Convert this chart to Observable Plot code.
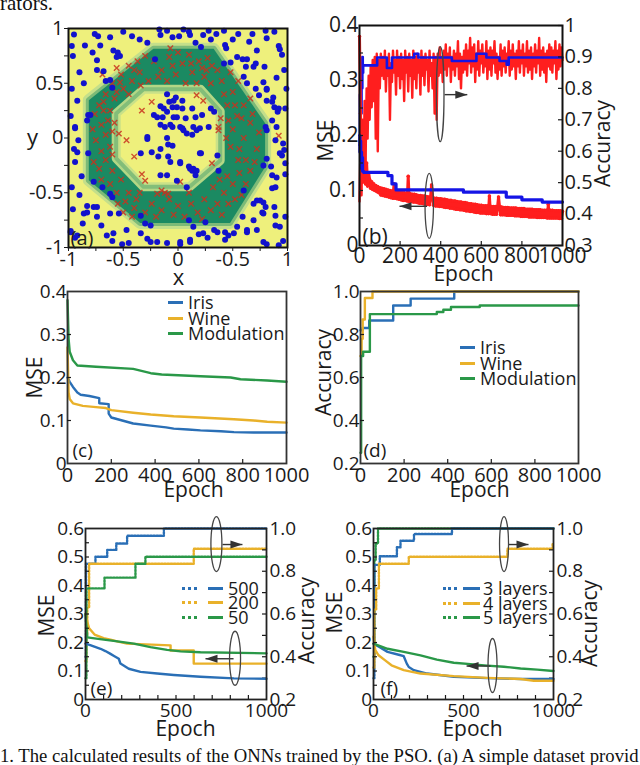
<!DOCTYPE html>
<html><head><meta charset="utf-8">
<script src="https://cdn.jsdelivr.net/npm/d3@7"></script>
<script src="https://cdn.jsdelivr.net/npm/@observablehq/plot@0.6"></script>
<style>
html,body{margin:0;padding:0;background:#fff;}
#root{position:relative;width:640px;height:765px;overflow:hidden;background:#fff;}
.serif{position:absolute;font-family:"Liberation Serif","Times New Roman",serif;color:#111;white-space:nowrap;line-height:1.15;}
</style></head>
<body><div id="root"></div>
<script>
// ================= DATA =================
// ---- (a) decision regions and samples ----
const ringOuter = [[-0.81,0.34],[-0.22,0.81],[0.33,0.81],[0.8,0.13],[0.8,-0.27],[0.48,-0.78],[-0.34,-0.78],[-0.81,-0.39]];
const ringInner = [[-0.31,0.44],[0.21,0.44],[0.39,0.24],[0.39,-0.21],[0.11,-0.45],[-0.31,-0.45],[-0.56,-0.19],[-0.56,0.22]];
const blueDots = [
[-0.95,0.945],[-0.97,0.84],[-0.85,0.845],[-0.96,0.75],[-0.76,0.95],[-0.73,0.93],[-0.71,0.845],[-0.78,0.78],[-0.74,0.71],[-0.59,0.8],[-0.55,0.78],[-0.53,0.75],[-0.56,0.74],[-0.68,0.61],[-0.74,0.62],[-0.66,0.52],[-0.62,0.53],[-0.6,0.46],[-0.42,0.93],[-0.28,0.87],[-0.16,0.94],[-0.17,0.99],[-0.1,0.98],[-0.92,0.34],[-0.8,0.21],[-0.83,0.16],[-0.94,0.1],[-0.21,0.72],
[-0.1,0.4],[-0.08,0.33],[-0.16,0.29],[-0.05,0.28],[-0.22,0.21],[-0.14,0.19],[-0.12,0.1],[-0.05,0.1],
[0.01,0.93],[0.1,0.97],[0.11,0.94],[0.23,0.94],[0.42,0.98],[0.43,0.85],[0.44,0.82],[0.16,0.87],[0.21,0.83],[0.54,0.74],[0.59,0.72],[0.63,0.72],[0.69,0.65],[0.71,0.68],[0.79,0.65],[0.92,0.84],[0.93,0.81],[0.95,0.76],[0.81,0.91],[0.8,0.98],[0.48,0.69],[0.42,0.68],[0.62,0.65],[0.6,0.56],[0.63,0.5],[0.71,0.45],[0.81,0.45],[0.74,0.39],[0.81,0.34],[0.86,0.33],[0.88,0.28],[0.91,0.24],[0.86,0.16],[0.8,0.1],[0.81,0.07],[0.98,0.27],
[-0.02,0.37],[0.04,0.34],[0.13,0.27],[0.04,0.27],[-0.01,0.19],[0.16,0.19],[0.02,0.1],[0.05,0.07],[0.14,0.1],[0.17,0.07],[0.28,0.1],[0.3,0.27],[0.33,0.24],
[-0.95,-0.1],[-0.92,-0.13],[-0.77,-0.4],[-0.69,-0.45],[-0.62,-0.51],[-0.6,-0.54],[-0.77,-0.63],[-0.83,-0.68],[-0.86,-0.69],[-0.74,-0.72],[-0.98,-0.86],[-0.94,-0.91],[-0.65,-0.89],[-0.6,-0.94],[-0.51,-0.97],[-0.54,-0.69],[-0.34,-0.71],[-0.3,-0.78],[-0.25,-0.8],[-0.28,-0.92],[-0.25,-0.95],
[-0.28,-0.01],[-0.16,-0.1],[-0.07,-0.22],[-0.1,0.0],[-0.16,-0.34],
[0.21,-0.14],[0.11,-0.28],[0.14,-0.28],[0.17,-0.3],[0.36,-0.16],[0.37,-0.3],[0.08,-0.45],[0.02,-0.22],[0.6,-0.48],[0.78,-0.25],[0.86,-0.34],[0.86,-0.46],[0.89,-0.02],[0.95,-0.16],[0.97,-0.11],[0.81,-0.19],[0.72,-0.57],[0.78,-0.59],[0.8,-0.63],[0.77,-0.68],[0.89,-0.71],[0.98,-0.72],[0.59,-0.72],[0.43,-0.86],[0.46,-0.89],[0.54,-0.81],[0.63,-0.86],[0.72,-0.84],[0.78,-0.95],[0.89,-0.8],[0.92,-0.98],[0.36,-0.86],[0.19,-0.88],[0.11,-0.95],[0.02,-0.97],[0.27,-0.91],[0.14,-0.81],[0.25,-0.77],[0.1,-0.75],
[-0.04,0.34],[-0.13,0.27],[-0.1,0.24],[-0.01,0.28],[-0.19,0.19],[-0.04,0.19],[0.07,0.18],[0.22,0.21],[-0.16,0.12],[-0.07,0.12],[0.04,0.09],[0.08,0.04],[0.13,0.03],[0.2,0.09],[-0.28,0.01],[-0.09,-0.06],[-0.05,-0.07],[-0.34,-0.14],[-0.24,-0.13],[-0.18,-0.17],[-0.09,-0.17],[0.02,-0.23],[0.1,-0.26],[0.13,-0.3],[-0.1,-0.34],[-0.01,-0.39],[0.2,-0.14],[0.16,-0.34],
[-0.94,0.09],[-0.91,-0.02],[-0.82,-0.14],[-0.94,-0.22],[-0.82,0.21],
[0.9,0.1],[0.96,-0.05],[0.93,-0.14],[0.98,-0.23],[0.98,-0.33],[0.9,-0.36],[0.89,-0.45],[0.85,-0.26],[0.92,0.27],[0.87,0.37],[0.78,0.51],[0.81,0.44],
[-0.98,-0.85],[-0.92,-0.89],[-0.83,-0.62],[-0.74,-0.63],[-0.62,-0.69],[-0.59,-0.87],[-0.47,-0.84],[-0.34,-0.87],[-0.19,-0.95],[-0.1,-0.96],[0.02,-0.95],[0.11,-0.93],[0.23,-0.87],[0.33,-0.84],[0.43,-0.93],[0.51,-0.87],[0.63,-0.84],[0.69,-0.75],[0.78,-0.69],[0.88,-0.63],[0.93,-0.81],[0.81,-0.97],[0.96,-0.94],[0.75,-0.57],[0.69,-0.6],
[-0.9,0.6],[-0.97,0.45],[-0.86,0.5],[-0.98,0.2],[-0.88,-0.35],[-0.97,-0.45],[-0.9,-0.52],[-0.96,-0.65],[-0.87,-0.78],[-0.7,-0.8],[-0.45,-0.96],[-0.05,0.92],[0.3,0.9],[0.55,0.95],[0.65,0.88],[0.72,0.8],[0.35,0.95],[0.97,0.62],[0.9,0.55],[0.99,0.45],
[-0.62,0.92],[-0.5,0.97],[-0.35,0.9],[0.05,0.99],[0.28,0.98],[0.5,0.9],[0.68,0.95],[0.88,0.97]
];
const redCrosses = [
[-0.22,0.7],[-0.15,0.62],[-0.08,0.74],[-0.02,0.58],[0.04,0.68],[0.1,0.76],[0.13,0.6],[0.19,0.7],[0.24,0.56],[0.27,0.73],[-0.27,0.52],[-0.1,0.52],[0.07,0.5],[0.17,0.5],[-0.05,0.66],[0.0,0.78],[0.22,0.64],[-0.18,0.56],[0.31,0.66],[0.12,0.68],
[-0.72,0.3],[-0.66,0.4],[-0.6,0.5],[-0.52,0.58],[-0.45,0.66],[-0.37,0.7],[-0.3,0.75],[-0.58,0.36],[-0.5,0.45],[-0.42,0.52],[-0.35,0.6],[-0.62,0.25],[-0.45,0.4],[-0.53,0.51],[-0.4,0.62],[-0.68,0.33],[-0.56,0.42],[-0.34,0.48],
[-0.76,0.22],[-0.7,0.12],[-0.66,0.03],[-0.75,-0.02],[-0.7,-0.12],[-0.62,-0.08],[-0.64,0.16],[-0.77,-0.22],[-0.6,0.06],[-0.72,-0.28],[-0.58,0.14],[-0.66,-0.2],[-0.78,0.08],[-0.68,0.25],[-0.6,-0.15],
[-0.7,-0.38],[-0.62,-0.42],[-0.56,-0.5],[-0.48,-0.58],[-0.4,-0.64],[-0.5,-0.68],[-0.6,-0.3],[-0.52,-0.38],[-0.45,-0.5],[-0.38,-0.56],[-0.42,-0.72],[-0.3,-0.68],[-0.55,-0.6],[-0.35,-0.5],
[-0.24,-0.6],[-0.15,-0.66],[-0.08,-0.56],[0.0,-0.62],[0.06,-0.72],[0.12,-0.6],[0.18,-0.68],[0.24,-0.56],[0.3,-0.66],[-0.2,-0.72],[-0.04,-0.7],[0.36,-0.6],[0.1,-0.5],[-0.12,-0.5],[0.22,-0.74],[0.4,-0.7],
[0.32,-0.45],[0.42,-0.5],[0.5,-0.42],[0.56,-0.32],[0.62,-0.42],[0.46,-0.6],[0.52,-0.56],[0.66,-0.3],[0.45,-0.35],[0.58,-0.52],[0.38,-0.38],[0.55,-0.2],
[0.48,-0.08],[0.6,0.0],[0.66,0.14],[0.54,0.2],[0.72,-0.1],[0.62,-0.2],[0.5,0.08],[0.74,0.05],[0.44,0.0],[0.7,-0.22],[0.56,-0.1],[0.46,0.16],
[0.4,0.52],[0.5,0.42],[0.36,0.62],[0.55,0.52],[0.6,0.3],[0.45,0.3],[0.66,0.36],[0.3,0.5],[0.48,0.6],[0.68,0.22],[0.58,0.18],[0.42,0.4],[0.26,0.62],[0.52,0.3],
[-0.33,0.25],[-0.24,0.33],[0.17,0.39],[0.23,0.34],[0.39,0.18],[0.37,0.1],[0.37,0.07],[-0.47,-0.02],[-0.4,-0.17],[-0.33,-0.33],[-0.3,-0.39],[-0.19,-0.51],[-0.15,-0.48],[-0.09,-0.51],[0.02,-0.4],[0.31,-0.23],[-0.54,0.04],[-0.07,0.82],[0.92,0.02],[-0.69,0.58],[-0.56,0.64]
];
const aTicks = [-1,-0.75,-0.5,-0.25,0,0.25,0.5,0.75,1];
const aLabelValues = [-1,-0.5,0,0.5,1];
const aXLabels = ["-1","-0.5","0","-0.5","1"];
const aYLabels = ["-1","-0.5","0","0.5","1"];

// ---- (b) PSO training: red = noisy run, blue = best run; sampled every 5 epochs ----
const bStep = 5;
const redAccB = [ // accuracy x100
44,62,46,70,50,76,57,80,64,84, 70,87,74,89,76,90,64,91,60,89, 80,91,84,90,83,92,79,89,84,91, 70,88,82,92,85,89,78,92,84,90,
80,91,83,89,76,92,85,90,79,91, 84,89,77,92,83,90,80,91,85,89, 78,92,84,90,81,91,86,89,79,92, 84,88,80,91,72,90,70,91,84,93,
85,90,82,92,86,94,84,91,87,93, 82,90,86,92,84,91,87,95,83,91, 80,90,85,92,86,94,84,92,88,96, 85,93,87,94,82,91,86,95,84,92,
88,94,85,91,87,95,83,92,86,93, 84,92,88,95,85,91,83,90,86,94, 84,92,87,93,85,91,88,95,84,92, 86,94,87,91,83,92,87,95,85,92,
88,94,84,91,87,95,85,92,86,93, 83,91,87,94,85,92,88,96,84,92, 86,93,85,91,82,92,87,94,86,93, 85,92,88,95,83,92,86,94,87,93, 89];
const redMseB = [ // MSE x1000
380,240,130,215,120,180,112,150,108,132, 120,104,116,102,112,100,109,98,107,96, 105,92,104,91,103,90,102,89,101,88, 100,87,99,86,112,86,98,85,97,84,
97,83,96,82,96,82,95,81,126,80, 94,80,93,79,93,79,92,78,91,77, 91,77,90,76,90,75,89,75,88,74, 88,110,87,73,86,72,86,72,85,71,
85,71,84,70,84,69,83,69,82,68, 82,68,81,67,81,66,80,66,79,65, 79,65,78,64,78,63,77,63,76,62, 76,62,75,61,75,60,74,60,73,59,
73,59,72,59,72,58,72,58,90,58, 71,57,71,57,71,57,70,88,70,56, 70,56,69,56,69,55,69,55,68,55, 68,55,68,54,68,54,67,54,67,53,
67,53,67,53,66,53,66,52,66,52, 66,52,65,52,65,51,65,51,65,51, 64,51,64,51,64,50,75,50,64,50, 64,50,63,50,63,50,63,49,63,49, 62];
const blueAccBEpoch = [0,2,4,6,8,10,12,14,16,18,87,135,160,270,290,455,576,625,690,725,735,1000];
const blueAccBValue = [0.62,0.78,0.66,0.86,0.72,0.88,0.8,0.9,0.85,0.873,0.898,0.865,0.898,0.91,0.898,0.887,0.91,0.898,0.887,0.875,0.898,0.898];
const blueMseBEpoch = [0,2,4,6,8,10,12,15,20,140,160,180,512,723,800,900,1000];
const blueMseBValue = [0.2,0.17,0.19,0.15,0.17,0.14,0.16,0.135,0.133,0.127,0.112,0.101,0.097,0.088,0.083,0.079,0.079];
const bMseTicks = [0,0.1,0.2,0.3,0.4], bMseLabels = ["0","0.1","0.2","0.3","0.4"];
const bAccTicks = [0.3,0.4,0.5,0.6,0.7,0.8,0.9,1.0], bAccLabels = ["0.3","0.4","0.5","0.6","0.7","0.8","0.9","1"];
const epochTicks = [0,200,400,600,800,1000], epochLabels = ["0","200","400","600","800","1000"];

// ---- (c) MSE per dataset ----
const cIrisEpoch = [0,10,25,45,60,100,145,145,188,188,200,250,300,380,450,485,550,607,700,760,850,1000];
const cIrisMse   = [0.2,0.19,0.178,0.165,0.16,0.157,0.152,0.14,0.138,0.116,0.107,0.1,0.093,0.088,0.084,0.081,0.079,0.077,0.075,0.073,0.072,0.072];
const cWineEpoch = [0,5,10,25,70,130,175,200,300,380,485,607,760,850,912,1000];
const cWineMse   = [0.27,0.165,0.15,0.14,0.134,0.131,0.129,0.124,0.118,0.114,0.11,0.107,0.103,0.1,0.097,0.095];
const cModEpoch  = [0,5,10,25,45,130,300,380,430,607,745,790,912,1000];
const cModMse    = [0.38,0.29,0.26,0.24,0.228,0.225,0.22,0.21,0.207,0.203,0.2,0.196,0.193,0.19];
const datasetNames = ["Iris","Wine","Modulation"];

// ---- (d) accuracy per dataset ----
const dIrisEpoch = [0,10,40,150,230,430,1000];
const dIrisAcc   = [0.82,0.83,0.865,0.935,0.967,1.0,1.0];
const dWineEpoch = [0,5,10,20,55,1000];
const dWineAcc   = [0.7,0.78,0.87,0.97,1.0,1.0];
const dModEpoch  = [0,3,12,43,350,380,415,547,1000];
const dModAcc    = [0.25,0.7,0.72,0.895,0.905,0.915,0.928,0.935,0.935];
const dAccTicks = [0.2,0.4,0.6,0.8,1.0], dAccLabels = ["0.2","0.4","0.6","0.8","1.0"];

// ---- (e) swarm size 500 / 200 / 50 ----
const swarmNames = ["500","200","50"];
const eAcc500Epoch = [0,3,55,120,170,230,433,1000];
const eAcc500      = [0.4,0.835,0.868,0.9,0.93,0.966,1.0,1.0];
const eAcc200Epoch = [0,5,10,20,598,1000];
const eAcc200      = [0.38,0.5,0.63,0.835,0.905,0.905];
const eAcc50Epoch  = [0,5,105,276,331,1000];
const eAcc50       = [0.3,0.72,0.77,0.835,0.868,0.868];
const eMse500Epoch = [0,30,83,110,138,160,184,193,239,304,396,488,635,820,1000];
const eMse500      = [0.196,0.19,0.178,0.17,0.16,0.152,0.143,0.126,0.108,0.097,0.091,0.086,0.08,0.074,0.073];
const eMse200Epoch = [0,5,20,50,100,138,180,230,470,470,598,598,1000];
const eMse200      = [0.3,0.284,0.25,0.228,0.215,0.21,0.203,0.196,0.19,0.172,0.172,0.126,0.126];
const eMse50Epoch  = [0,10,80,166,267,359,451,525,635,1000];
const eMse50       = [0.3,0.218,0.212,0.205,0.196,0.184,0.174,0.169,0.166,0.162];

// ---- (f) 3 / 4 / 5 layers ----
const layerNames = ["3 layers","4 layers","5 layers"];
const fAcc3Epoch = [0,5,35,130,150,225,436,1000];
const fAcc3      = [0.3,0.83,0.87,0.912,0.943,0.974,1.0,1.0];
const fAcc4Epoch = [0,5,15,30,196,744,995,1000];
const fAcc4      = [0.35,0.62,0.72,0.835,0.868,0.905,0.93,0.93];
const fAcc5Epoch = [0,5,12,25,1000];
const fAcc5      = [0.4,0.85,0.93,1.0,1.0];
const fMse3Epoch = [0,30,78,140,168,185,196,224,298,446,631,817,1000];
const fMse3      = [0.196,0.185,0.167,0.157,0.152,0.126,0.114,0.103,0.091,0.08,0.075,0.072,0.072];
const fMse4Epoch = [0,10,28,63,100,168,261,446,631,817,891,1000];
const fMse4      = [0.22,0.173,0.155,0.138,0.12,0.103,0.091,0.082,0.076,0.072,0.066,0.066];
const fMse5Epoch = [0,78,168,261,352,446,539,631,724,817,909,1000];
const fMse5      = [0.196,0.178,0.167,0.155,0.14,0.129,0.124,0.119,0.115,0.109,0.105,0.1];

const efMseTicks = [0,0.1,0.2,0.3,0.4,0.5,0.6], efMseLabels = ["0","0.1","0.2","0.3","0.4","0.5","0.6"];
const efAccTicks = [0.2,0.4,0.6,0.8,1.0], efAccLabels = ["0.2","0.4","0.6","0.8","1.0"];
const efEpochTicks = [0,500,1000], efEpochLabels = ["0","500","1000"];

// annotations (data units): ellipse centres and arrows
const bAccMark = [{x: 400, y: 0.78, x1: 419, x2: 531}];
const bMseMark = [{x: 346, y: 0.0713, x1: 333, x2: 197}];
const eAccMark = [{x: 726, y: 0.925, x1: 757, x2: 867}];
const eMseMark = [{x: 829, y: 0.143, x1: 818, x2: 663}];
const fAccMark = [{x: 728, y: 0.925, x1: 750, x2: 861}];
const fMseMark = [{x: 664, y: 0.1175, x1: 650, x2: 517}];

const topText = "rators.";
const captionText = "1. The calculated results of the ONNs trained by the PSO. (a) A simple dataset provid";

// ================= DRAWING =================
const FONT = '"Open Sans", "DejaVu Sans", sans-serif';
const INK = "#1a1a1a";
const BLUE = "#2a6fb6", YEL = "#e9b12a", GRN = "#2a9848";
const RED = "#ff1e1e", PBLUE = "#1414e6";
const root = document.getElementById("root");

const toPts = (ep, val) => ep.map((e, i) => ({epoch: e, v: val[i]}));
const lookup = (vals, labels) => { const m = new Map(vals.map((v, i) => [v, labels[i]])); return d => m.has(d) ? m.get(d) : ""; };
// split a closed polygon into two chains sharing end points, for an area between them
function polygonBand(poly) {
  const n = poly.length, half = n / 2, rows = [];
  for (let i = 0; i <= half; i++) {
    const a = poly[i], b = poly[(n - i) % n];
    rows.push({x1: a[0], y1: a[1], x2: b[0], y2: b[1]});
  }
  return rows;
}

function place(svg, left, top, fs) {
  Object.assign(svg.style, {position: "absolute", left: left + "px", top: top + "px", background: "transparent",
    overflow: "visible", fontFamily: FONT, fontSize: fs + "px", color: INK, maxWidth: "none"});
  root.appendChild(svg);
  return svg;
}
function mkPlot(P, yDomain, marks, fs) {
  const svg = Plot.plot({
    width: P.w, height: P.h, marginLeft: P.ml, marginRight: P.mr, marginTop: P.mt, marginBottom: P.mb,
    x: {domain: P.x, axis: null}, y: {domain: yDomain, axis: null}, marks
  });
  return place(svg, P.left, P.top, fs);
}
function label(P, text, px, py, fs, rotate = 0, anchor = "middle") {
  return Plot.text([text], {text: d => d, frameAnchor: "top-left", dx: px - (P.left + P.ml), dy: py - (P.top + P.mt),
    rotate, fontSize: fs, textAnchor: anchor, lineAnchor: "middle", fill: INK, fontFamily: FONT});
}
function innerTicks(P, xs, ysLeft, ysRight) {
  const W = P.w - P.ml - P.mr, H = P.h - P.mt - P.mb, L = 4;
  const m = [];
  if (xs) m.push(Plot.ruleX(xs, {x: d => d, insetTop: H - L, stroke: INK, strokeWidth: 1.2}));
  if (ysLeft) m.push(Plot.ruleY(ysLeft, {y: d => d, insetRight: W - L, stroke: INK, strokeWidth: 1.2}));
  if (ysRight) m.push(Plot.ruleY(ysRight, {y: d => d, insetLeft: W - L, stroke: INK, strokeWidth: 1.2}));
  return m;
}
const headSym = {draw(ctx, size) { const r = Math.sqrt(size / Math.PI); ctx.moveTo(0, 0); ctx.lineTo(-3 * r, -r); ctx.lineTo(-3 * r, r); ctx.closePath(); }};
function arrow(data) {
  return [
    Plot.link(data, {x1: "x1", x2: "x2", y1: "y", y2: "y", stroke: "#333", strokeWidth: 1.4}),
    Plot.dot(data, {x: "x2", y: "y", symbol: headSym, r: 4, fill: "#333", stroke: "none", rotate: d => d.x2 > d.x1 ? 0 : 180})
  ];
}
function ellipse(svg, data, rx, ry) {
  const X = svg.scale("x"), Y = svg.scale("y");
  for (const d of data) d3.select(svg).append("ellipse").attr("cx", X.apply(d.x)).attr("cy", Y.apply(d.y))
    .attr("rx", rx).attr("ry", ry).attr("fill", "none").attr("stroke", "#444").attr("stroke-width", 1.3);
}
function addLegend(rows, swatches, textX, fs) {
  rows.forEach(r => {
    swatches.forEach(s => {
      const d = document.createElement("div");
      d.style.cssText = `position:absolute;left:${s.x1}px;top:${r.y - 1.5}px;width:${s.x2 - s.x1}px;height:0;border-top:3px ${s.dotted ? "dotted" : "solid"} ${r.color};`;
      root.appendChild(d);
    });
    const t = document.createElement("div");
    t.textContent = r.label;
    t.style.cssText = `position:absolute;left:${textX}px;top:${r.y}px;transform:translateY(-52%);font-size:${fs}px;font-family:${FONT};line-height:1;color:${INK};white-space:nowrap;`;
    root.appendChild(t);
  });
}

// ---------- panel (a) ----------
const PA = {left: 0, top: 0, w: 320, h: 290, ml: 68, mr: 33, mt: 28, mb: 43, x: [-1, 1]};
const YELLOW = "#eef07c", RINGG = "#1b8a62", HALO1 = "#c4df8a", HALO2 = "#7cba78";
const outerBand = polygonBand(ringOuter), innerBand = polygonBand(ringInner);
const bandOpts = {x1: "x1", y1: "y1", x2: "x2", y2: "y2"};
mkPlot(PA, [-1, 1], [
  Plot.frame({fill: YELLOW, stroke: "none"}),
  Plot.area(outerBand, {...bandOpts, fill: "none", stroke: HALO1, strokeWidth: 12, strokeLinejoin: "round"}),
  Plot.area(outerBand, {...bandOpts, fill: "none", stroke: HALO2, strokeWidth: 6, strokeLinejoin: "round"}),
  Plot.area(outerBand, {...bandOpts, fill: RINGG}),
  Plot.area(innerBand, {...bandOpts, fill: YELLOW}),
  Plot.area(innerBand, {...bandOpts, fill: "none", stroke: HALO1, strokeWidth: 9, strokeOpacity: 0.9, strokeLinejoin: "round"}),
  Plot.area(innerBand, {...bandOpts, fill: "none", stroke: HALO2, strokeWidth: 4, strokeOpacity: 0.9, strokeLinejoin: "round"}),
  Plot.dot(redCrosses, {x: d => d[0], y: d => d[1], symbol: "times", r: 2.6, stroke: "#c8321f", strokeWidth: 1.4, strokeOpacity: 0.85}),
  Plot.dot(blueDots, {x: d => d[0], y: d => d[1], r: 3, fill: "#1212cc", stroke: "none"}),
  Plot.frame({stroke: "#111", strokeWidth: 2}),
  Plot.axisX(aTicks, {anchor: "bottom", tickSize: 4, tickPadding: 0, tickFormat: lookup(aLabelValues, aXLabels), label: null, stroke: INK}),
  Plot.axisY(aTicks, {anchor: "left", tickSize: 4, tickPadding: 1, tickFormat: lookup(aLabelValues, aYLabels), label: null, stroke: INK}),
  label(PA, "y", 32, 137, 22),
  label(PA, "x", 178, 277, 22),
  label(PA, "(a)", 70, 238, 20, 0, "start")
], 20);

// ---------- panel (b) ----------
const PB = {left: 320, top: 0, w: 320, h: 290, ml: 39, mr: 78, mt: 25, mb: 45, x: [0, 1000]};
const redAccPts = redAccB.map((v, i) => ({epoch: i * bStep, v: v / 100}));
const redMsePts = redMseB.map((v, i) => ({epoch: i * bStep, v: v / 1000}));
const svgBacc = mkPlot(PB, [0.3, 1.0], [
  Plot.line(redAccPts, {x: "epoch", y: "v", stroke: RED, strokeWidth: 2.4}),
  Plot.line(toPts(blueAccBEpoch, blueAccBValue), {x: "epoch", y: "v", stroke: PBLUE, strokeWidth: 2.6, curve: "step-after"}),
  ...innerTicks(PB, null, null, bAccTicks),
  Plot.axisY(bAccTicks, {anchor: "right", tickSize: 0, tickPadding: 2, tickFormat: lookup(bAccTicks, bAccLabels), label: null}),
  ...arrow(bAccMark),
  label(PB, "Accuracy", 603, 143, 21, -90)
], 20);
ellipse(svgBacc, bAccMark, 3.8, 47.5);
const svgBmse = mkPlot(PB, [0, 0.4], [
  Plot.line(redMsePts, {x: "epoch", y: "v", stroke: RED, strokeWidth: 3}),
  Plot.dot(redMsePts, {x: "epoch", y: "v", r: 1.8, fill: RED}),
  Plot.line(toPts(blueMseBEpoch, blueMseBValue), {x: "epoch", y: "v", stroke: PBLUE, strokeWidth: 3.2, curve: "step-after"}),
  Plot.frame({stroke: "#111", strokeWidth: 2}),
  ...innerTicks(PB, [200, 400, 600, 800], [0.05, 0.1, 0.15, 0.2, 0.25, 0.3, 0.35]),
  Plot.axisY(bMseTicks, {anchor: "left", tickSize: 0, tickPadding: 1, tickFormat: lookup(bMseTicks, bMseLabels), label: null}),
  Plot.axisX(epochTicks, {anchor: "bottom", tickSize: 0, tickPadding: 3, tickFormat: lookup(epochTicks, epochLabels), label: null}),
  ...arrow(bMseMark),
  label(PB, "MSE", 326, 140, 21, -90),
  label(PB, "Epoch", 463, 274, 21),
  label(PB, "(b)", 362, 237, 21, 0, "start")
], 21);
ellipse(svgBmse, bMseMark, 4.2, 32.5);

// ---------- panel (c) ----------
const PC = {left: 0, top: 270, w: 320, h: 240, ml: 67, mr: 34, mt: 21, mb: 47, x: [0, 1000]};
mkPlot(PC, [0, 0.4], [
  Plot.line(toPts(cIrisEpoch, cIrisMse), {x: "epoch", y: "v", stroke: BLUE, strokeWidth: 2.4}),
  Plot.line(toPts(cWineEpoch, cWineMse), {x: "epoch", y: "v", stroke: YEL, strokeWidth: 2.4}),
  Plot.line(toPts(cModEpoch, cModMse), {x: "epoch", y: "v", stroke: GRN, strokeWidth: 2.4}),
  Plot.frame({stroke: "#333", strokeWidth: 1.8}),
  ...innerTicks(PC, [200, 400, 600, 800], [0.1, 0.2, 0.3]),
  Plot.axisY(bMseTicks, {anchor: "left", tickSize: 0, tickPadding: 1, tickFormat: lookup(bMseTicks, bMseLabels), label: null}),
  Plot.axisX(epochTicks, {anchor: "bottom", tickSize: 0, tickPadding: 4, tickFormat: lookup(epochTicks, epochLabels), label: null, fontSize: 20}),
  label(PC, "MSE", 35, 377, 21, -90),
  label(PC, "Epoch", 193, 490, 21),
  label(PC, "(c)", 72, 450, 19, 0, "start")
], 19);
addLegend([
  {label: datasetNames[0], color: BLUE, y: 302},
  {label: datasetNames[1], color: YEL, y: 318},
  {label: datasetNames[2], color: GRN, y: 333}
], [{x1: 168, x2: 183}], 188, 18);

// ---------- panel (d) ----------
const PD = {left: 320, top: 270, w: 320, h: 240, ml: 40, mr: 62, mt: 21, mb: 47, x: [0, 1000]};
mkPlot(PD, [0.2, 1.0], [
  Plot.line(toPts(dIrisEpoch, dIrisAcc), {x: "epoch", y: "v", stroke: BLUE, strokeWidth: 2.4, curve: "step-after"}),
  Plot.line(toPts(dWineEpoch, dWineAcc), {x: "epoch", y: "v", stroke: YEL, strokeWidth: 2.4, curve: "step-after"}),
  Plot.line(toPts(dModEpoch, dModAcc), {x: "epoch", y: "v", stroke: GRN, strokeWidth: 2.4, curve: "step-after"}),
  Plot.frame({stroke: "#333", strokeWidth: 1.8}),
  ...innerTicks(PD, [200, 400, 600, 800], [0.4, 0.6, 0.8]),
  Plot.axisY(dAccTicks, {anchor: "left", tickSize: 0, tickPadding: 1, tickFormat: lookup(dAccTicks, dAccLabels), label: null}),
  Plot.axisX(epochTicks, {anchor: "bottom", tickSize: 0, tickPadding: 4, tickFormat: lookup(epochTicks, epochLabels), label: null, fontSize: 20}),
  label(PD, "Accuracy", 324, 372, 21, -90),
  label(PD, "Epoch", 479, 490, 21),
  label(PD, "(d)", 363, 450, 19, 0, "start")
], 19);
addLegend([
  {label: datasetNames[0], color: BLUE, y: 347},
  {label: datasetNames[1], color: YEL, y: 363},
  {label: datasetNames[2], color: GRN, y: 378}
], [{x1: 460, x2: 475}], 480, 18);

// ---------- panels (e) and (f) ----------
const DASH = "1.6,1.6";
function dualPanel(P, accSeries, mseSeries, accMark, mseMark, letter, titles, ellR) {
  const sAcc = mkPlot(P, [0.2, 1.0], [
    ...accSeries.map(s => Plot.line(toPts(s[0], s[1]), {x: "epoch", y: "v", stroke: s[2], strokeWidth: 2.4, strokeDasharray: DASH, curve: "step-after"})),
    ...innerTicks(P, null, null, [0.3, 0.4, 0.5, 0.6, 0.7, 0.8, 0.9]),
    Plot.axisY(efAccTicks, {anchor: "right", tickSize: 0, tickPadding: 3, tickFormat: lookup(efAccTicks, efAccLabels), label: null}),
    ...arrow(accMark),
    label(P, "Accuracy", titles.acc[0], titles.acc[1], 21, -90)
  ], 19);
  ellipse(sAcc, accMark, ellR[0], 27.5);
  const sMse = mkPlot(P, [0, 0.6], [
    ...mseSeries.map(s => Plot.line(toPts(s[0], s[1]), {x: "epoch", y: "v", stroke: s[2], strokeWidth: 2.4})),
    Plot.frame({stroke: "#222", strokeWidth: 1.8}),
    ...innerTicks(P, [100, 200, 300, 400, 500, 600, 700, 800, 900], [0.05, 0.1, 0.15, 0.2, 0.25, 0.3, 0.35, 0.4, 0.45, 0.5, 0.55]),
    Plot.axisY(efMseTicks, {anchor: "left", tickSize: 0, tickPadding: 1.5, tickFormat: lookup(efMseTicks, efMseLabels), label: null}),
    Plot.axisX(efEpochTicks, {anchor: "bottom", tickSize: 0, tickPadding: 4, tickFormat: lookup(efEpochTicks, efEpochLabels), label: null}),
    ...arrow(mseMark),
    label(P, "MSE", titles.mse[0], titles.mse[1], 21, -90),
    label(P, "Epoch", titles.ep[0], titles.ep[1], 21),
    label(P, letter, titles.let[0], titles.let[1], 19, 0, "start")
  ], 19);
  ellipse(sMse, mseMark, ellR[1], 27);
}
const PE = {left: 0, top: 500, w: 320, h: 245, ml: 85, mr: 54, mt: 28, mb: 46, x: [0, 1000]};
dualPanel(PE,
  [[eAcc500Epoch, eAcc500, BLUE], [eAcc200Epoch, eAcc200, YEL], [eAcc50Epoch, eAcc50, GRN]],
  [[eMse500Epoch, eMse500, BLUE], [eMse200Epoch, eMse200, YEL], [eMse50Epoch, eMse50, GRN]],
  eAccMark, eMseMark, "(e)",
  {acc: [307, 620], mse: [47, 615], ep: [185, 729], let: [90, 688]}, [5.5, 5.5]);
addLegend([
  {label: swarmNames[0], color: BLUE, y: 588},
  {label: swarmNames[1], color: YEL, y: 602},
  {label: swarmNames[2], color: GRN, y: 617}
], [{x1: 182, x2: 197, dotted: true}, {x1: 208, x2: 223}], 228, 18);

const PF = {left: 320, top: 500, w: 320, h: 245, ml: 53, mr: 87, mt: 28, mb: 46, x: [0, 1000]};
dualPanel(PF,
  [[fAcc5Epoch, fAcc5, GRN], [fAcc3Epoch, fAcc3, BLUE], [fAcc4Epoch, fAcc4, YEL]],
  [[fMse3Epoch, fMse3, BLUE], [fMse4Epoch, fMse4, YEL], [fMse5Epoch, fMse5, GRN]],
  fAccMark, fMseMark, "(f)",
  {acc: [590, 623], mse: [335, 612], ep: [472, 729], let: [380, 688]}, [4.5, 4.5]);
addLegend([
  {label: layerNames[0], color: BLUE, y: 588},
  {label: layerNames[1], color: YEL, y: 603},
  {label: layerNames[2], color: GRN, y: 617}
], [{x1: 443, x2: 457, dotted: true}, {x1: 463, x2: 480}], 483, 18);

// ---------- surrounding text ----------
const tt = document.createElement("div");
tt.className = "serif"; tt.textContent = topText;
tt.style.cssText += "left:0px;top:-9px;font-size:21px;";
root.appendChild(tt);
const cap = document.createElement("div");
cap.className = "serif"; cap.textContent = captionText;
cap.style.cssText += "left:0px;top:745px;font-size:18.7px;";
root.appendChild(cap);
</script>
</body></html>
